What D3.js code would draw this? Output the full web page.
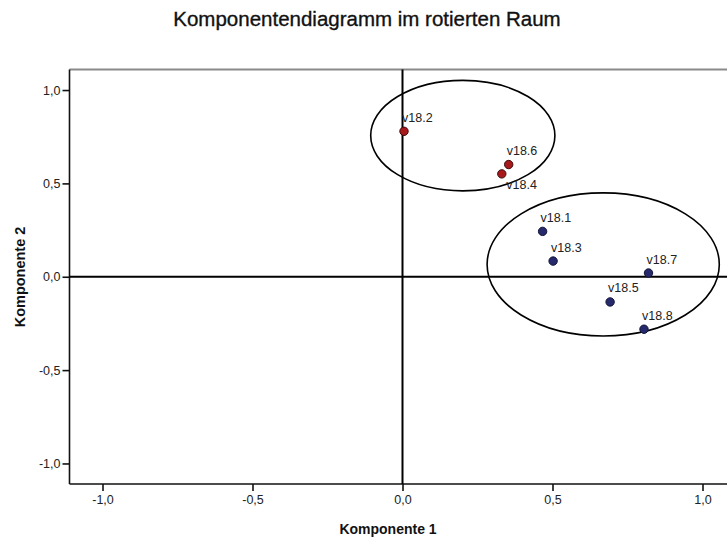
<!DOCTYPE html>
<html>
<head>
<meta charset="utf-8">
<script src="https://cdn.jsdelivr.net/npm/d3@7"></script>
<style>
  html, body { margin: 0; padding: 0; background: #fff; overflow: hidden; }
  svg { display: block; font-family: "Liberation Sans", Arial, sans-serif; }
</style>
</head>
<body>
<svg id="chart" width="727" height="540"></svg>
<script>
// Rotated component loadings
const variables = ["v18.1", "v18.2", "v18.3", "v18.4", "v18.5", "v18.6", "v18.7", "v18.8"];
const comp1 = [0.467, 0.005, 0.502, 0.331, 0.692, 0.354, 0.820, 0.805];
const comp2 = [0.243, 0.779, 0.084, 0.551, -0.135, 0.601, 0.020, -0.281];
const groups = ["B", "A", "B", "A", "B", "A", "B", "B"];
const labelsBelow = ["v18.4"];

// Cluster outlines (centre and radii in loading units)
const clusterCx = [0.201, 0.669];
const clusterCy = [0.756, 0.066];
const clusterRx = [0.307, 0.387];
const clusterRy = [0.296, 0.383];

const tickValues = [-1, -0.5, 0, 0.5, 1];

const groupFill = { A: "#a8191b", B: "#262a6c" };
const groupStroke = { A: "#3c0d0d", B: "#121436" };

const svg = d3.select("#chart");
const fmt = v => d3.format(".1f")(v).replace(".", ",").replace("−", "-");

const plotL = 69.5, plotR = 735.5, plotT = 69.5, plotB = 484;
const x = d3.scaleLinear().domain([-1.11, 1.11]).range([plotL, plotR]);
const y = d3.scaleLinear().domain([-1.11, 1.11]).range([plotB, plotT]);

// Title
svg.append("text")
  .attr("x", 367).attr("y", 26)
  .attr("text-anchor", "middle")
  .attr("font-size", 20.5)
  .attr("stroke", "#111").attr("stroke-width", 0.35)
  .attr("fill", "#111")
  .text("Komponentendiagramm im rotierten Raum");

// Frame top edge
svg.append("line")
  .attr("x1", plotL).attr("x2", 727).attr("y1", plotT).attr("y2", plotT)
  .attr("stroke", "#8a8a8a").attr("stroke-width", 2);

// Axes
const xAxis = d3.axisBottom(x).tickValues(tickValues).tickFormat(fmt).tickSizeInner(7).tickSizeOuter(0).tickPadding(4);
const yAxis = d3.axisLeft(y).tickValues(tickValues).tickFormat(fmt).tickSizeInner(7).tickSizeOuter(0).tickPadding(2);

const gx = svg.append("g").attr("transform", `translate(0,${plotB})`).call(xAxis);
const gy = svg.append("g").attr("transform", `translate(${plotL},0)`).call(yAxis);
[gx, gy].forEach(g => {
  g.select(".domain").attr("stroke", "#111").attr("stroke-width", 1.6);
  g.selectAll(".tick line").attr("stroke", "#111").attr("stroke-width", 1.6);
  g.selectAll(".tick text").attr("font-size", 12.5).attr("fill", "#222")
    .attr("font-family", "\"Liberation Sans\", Arial, sans-serif");
});
gx.select(".domain").attr("d", `M${plotL},0H${plotR}`);
gy.select(".domain").attr("d", `M0,${plotB}V${plotT}`);

// Axis titles
svg.append("text")
  .attr("x", 388).attr("y", 534)
  .attr("text-anchor", "middle")
  .attr("font-size", 14).attr("font-weight", "bold").attr("fill", "#111")
  .text("Komponente 1");
svg.append("text")
  .attr("transform", "translate(25,277) rotate(-90)")
  .attr("text-anchor", "middle")
  .attr("font-size", 14.5).attr("font-weight", "bold").attr("fill", "#111")
  .text("Komponente 2");

// Zero reference lines
svg.append("line")
  .attr("x1", x(0)).attr("x2", x(0)).attr("y1", plotT).attr("y2", plotB)
  .attr("stroke", "#000").attr("stroke-width", 2);
svg.append("line")
  .attr("x1", plotL).attr("x2", plotR).attr("y1", y(0)).attr("y2", y(0))
  .attr("stroke", "#000").attr("stroke-width", 2);

// Cluster ellipses
const clusters = clusterCx.map((cx, i) => ({ cx, cy: clusterCy[i], rx: clusterRx[i], ry: clusterRy[i] }));
svg.append("g").selectAll("ellipse").data(clusters).join("ellipse")
  .attr("cx", d => x(d.cx)).attr("cy", d => y(d.cy))
  .attr("rx", d => x(d.rx) - x(0)).attr("ry", d => y(0) - y(d.ry))
  .attr("fill", "none").attr("stroke", "#000").attr("stroke-width", 1.6);

// Points and labels
const points = variables.map((name, i) => ({ name, c1: comp1[i], c2: comp2[i], group: groups[i] }));
const pg = svg.append("g");
pg.selectAll("circle").data(points).join("circle")
  .attr("cx", d => x(d.c1)).attr("cy", d => y(d.c2)).attr("r", 4.2)
  .attr("fill", d => groupFill[d.group]).attr("stroke", d => groupStroke[d.group]).attr("stroke-width", 1);
pg.selectAll("text").data(points).join("text")
  .attr("x", d => x(d.c1) + (labelsBelow.includes(d.name) ? 4.5 : -2))
  .attr("y", d => y(d.c2) + (labelsBelow.includes(d.name) ? 15.5 : -9.5))
  .attr("font-size", 12.5).attr("fill", "#222")
  .text(d => d.name);
</script>
</body>
</html>
